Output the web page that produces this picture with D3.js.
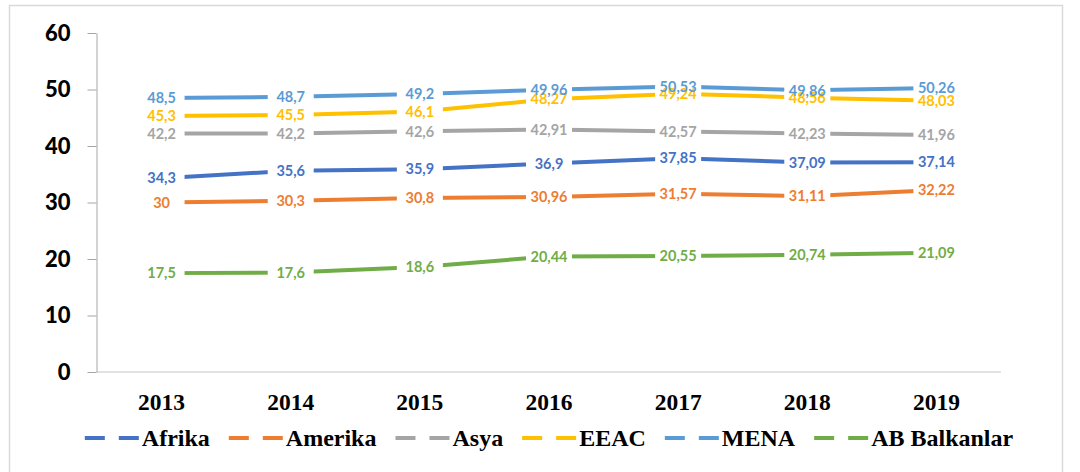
<html><head>
<meta charset="utf-8">
<title>Bölgelere göre değerler 2013-2019</title>
<style>
  body { margin: 0; background: #fff; }
  svg { display: block; }
</style>
<script src="https://d3js.org/d3.v7.min.js"></script>
</head>
<body>
<svg id="chart" width="1080" height="472"></svg>
<script>
// values
const years = ["2013", "2014", "2015", "2016", "2017", "2018", "2019"];
const afrika = [34.3, 35.6, 35.9, 36.9, 37.85, 37.09, 37.14];
const amerika = [30, 30.3, 30.8, 30.96, 31.57, 31.11, 32.22];
const asya = [42.2, 42.2, 42.6, 42.91, 42.57, 42.23, 41.96];
const eeac = [45.3, 45.5, 46.1, 48.27, 49.24, 48.56, 48.03];
const mena = [48.5, 48.7, 49.2, 49.96, 50.53, 49.86, 50.26];
const abBalkanlar = [17.5, 17.6, 18.6, 20.44, 20.55, 20.74, 21.09];
const yTicks = [0, 10, 20, 30, 40, 50, 60];

const series = [
  { name: "Afrika", color: "#4472C4", values: afrika },
  { name: "Amerika", color: "#ED7D31", values: amerika },
  { name: "Asya", color: "#A5A5A5", values: asya },
  { name: "EEAC", color: "#FFC000", values: eeac },
  { name: "MENA", color: "#5B9BD5", values: mena },
  { name: "AB Balkanlar", color: "#70AD47", values: abBalkanlar }
];

const svg = d3.select("#chart");
const sans = "Lato, 'Open Sans', sans-serif";
const serif = "'Liberation Serif', 'Times New Roman', serif";

// chart frame
svg.append("rect")
  .attr("x", 9.5).attr("y", 5.5)
  .attr("width", 1053).attr("height", 480)
  .attr("fill", "#fff")
  .attr("stroke", "#d9d9d9")
  .attr("stroke-width", 1.5);

const x = d3.scaleBand().domain(years).range([97, 1001]).padding(0);
const y = d3.scaleLinear().domain([0, 60]).range([372, 33]);
const cx = d => x(d) + x.bandwidth() / 2;

// x axis line
svg.append("line")
  .attr("x1", 97).attr("x2", 1001)
  .attr("y1", y(0)).attr("y2", y(0))
  .attr("stroke", "#d9d9d9").attr("stroke-width", 1.5);

// y axis
const yAxis = svg.append("g")
  .attr("transform", "translate(96.5,0)")
  .call(d3.axisLeft(y).tickValues(yTicks).tickSize(9).tickSizeOuter(0).tickPadding(17));
yAxis.select(".domain").attr("stroke", "#a6a6a6");
yAxis.selectAll(".tick line").attr("stroke", "#a6a6a6");
yAxis.selectAll(".tick text")
  .attr("font-family", sans)
  .attr("font-weight", 900)
  .attr("font-size", 22)
  .attr("fill", "#000");

// year labels
svg.append("g").selectAll("text")
  .data(years).join("text")
  .attr("x", d => cx(d))
  .attr("y", 410)
  .attr("text-anchor", "middle")
  .attr("font-family", serif)
  .attr("font-weight", "bold")
  .attr("font-size", 23.5)
  .text(d => d);

// lines
const line = d3.line()
  .x((d, i) => cx(years[i]))
  .y(d => y(d));

svg.append("g").selectAll("path")
  .data(series).join("path")
  .attr("d", s => line(s.values))
  .attr("fill", "none")
  .attr("stroke", s => s.color)
  .attr("stroke-width", 4);

// data labels: white boxes break the lines, text on top
const labels = [];
series.forEach(s => s.values.forEach((v, i) => labels.push({ s, v, yr: years[i] })));

svg.append("g").selectAll("rect")
  .data(labels).join("rect")
  .attr("x", d => cx(d.yr) - 23)
  .attr("y", d => y(d.v) - 7)
  .attr("width", 46)
  .attr("height", 14)
  .attr("fill", "#fff");

svg.append("g").selectAll("text")
  .data(labels).join("text")
  .attr("x", d => cx(d.yr))
  .attr("y", d => y(d.v))
  .attr("dy", "0.36em")
  .attr("text-anchor", "middle")
  .attr("font-family", sans)
  .attr("font-weight", "bold")
  .attr("font-size", 14.5)
  .attr("fill", d => d.s.color)
  .text(d => String(d.v).replace(".", ","));

// legend
const legend = svg.append("g");
let lx = 0;
series.forEach(s => {
  const item = legend.append("g").attr("transform", `translate(${lx},0)`);
  item.append("line")
    .attr("x1", 0).attr("x2", 54)
    .attr("y1", 438).attr("y2", 438)
    .attr("stroke", s.color)
    .attr("stroke-width", 4)
    .attr("stroke-dasharray", "20,14");
  const t = item.append("text")
    .attr("x", 57).attr("y", 446)
    .attr("font-family", serif)
    .attr("font-weight", "bold")
    .attr("font-size", 24)
    .text(s.name);
  lx += 57 + t.node().getComputedTextLength() + 19;
});
const legendWidth = lx - 19;
legend.attr("transform", `translate(${549 - legendWidth / 2},0)`);
</script>
</body></html>
